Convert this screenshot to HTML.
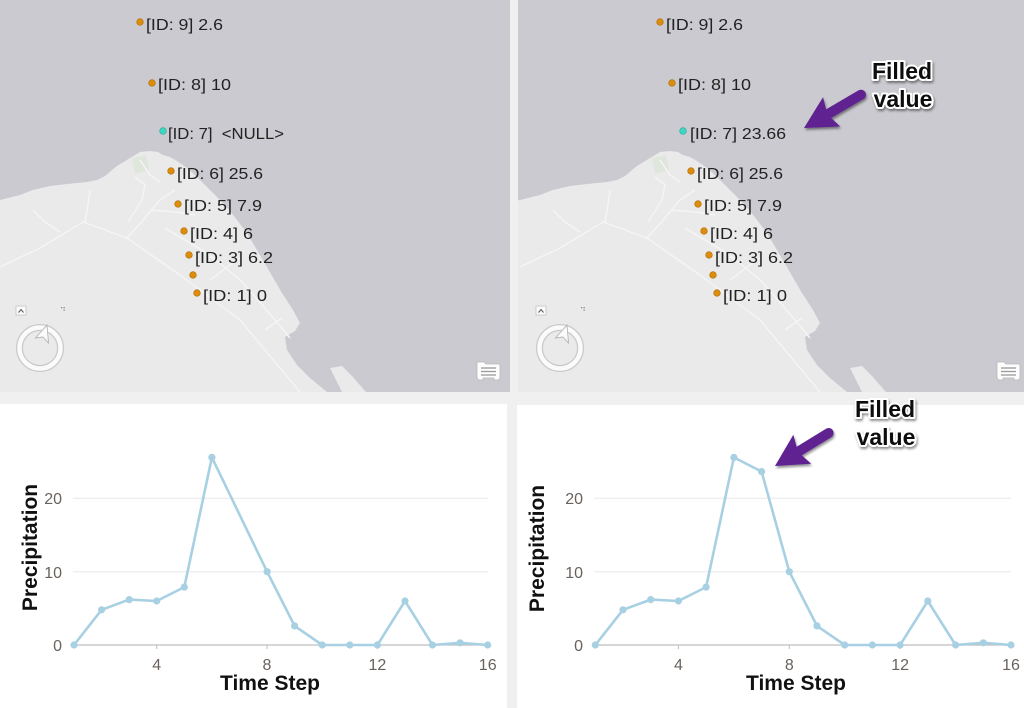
<!DOCTYPE html>
<html><head><meta charset="utf-8"><style>
html,body{margin:0;padding:0;background:#f0f0f0;}
svg{display:block;}
</style></head><body>
<svg width="1024" height="708" viewBox="0 0 1024 708" xmlns="http://www.w3.org/2000/svg">
<defs>
<filter id="ds" x="-20%" y="-20%" width="140%" height="150%">
<feDropShadow dx="1" dy="2" stdDeviation="1.2" flood-color="#000" flood-opacity="0.45"/>
</filter>
<clipPath id="cl"><rect x="0" y="0" width="510" height="392"/></clipPath>
<clipPath id="cr"><rect x="518" y="0" width="506" height="392"/></clipPath>
<g id="map">
<rect x="-30" y="0" width="560" height="392" fill="#cacad0"/>
<path d="M-30,205 L0,200 L20,195 L33,190 L50,186 L67,184 L87,182 L97,180 L105,176 L112,170 L117,166 L122,163 L130,158 L135,155 L140,152 L150,151 L158,152 L163,155 L170,157 L177,161 L187,168 L197,177 L207,187 L217,197 L227,207 L237,220 L247,233 L257,250 L267,267 L275,281 L282,293 L293,310 L300,323 L295,331 L285,337 L287,350 L297,365 L310,378 L322,388 L327,392 L-30,392 Z" fill="#eaeaeb"/>
<path d="M330,368 L342,366 L352,376 L366,392 L342,392 Z" fill="#eaeaeb"/>
<path d="M132,158 L146,155 L149,170 L135,174 Z" fill="#dfe6dc"/>
<g stroke="#f5f5f6" stroke-width="1.4" fill="none">
<path d="M0,267 L40,248 L83,222 L127,238 L180,275 L240,320 L300,392"/>
<path d="M33,210 L45,222 L60,232"/>
<path d="M90,190 L88,205 L85,222"/>
<path d="M127,238 L145,218 L160,200 L175,190"/>
<path d="M135,177 L145,185 L142,200 L128,222"/>
<path d="M150,210 L175,212 L195,215"/>
<path d="M165,228 L185,240 L205,252 L222,265 L240,280 L258,300 L275,320 L290,338"/>
<path d="M210,280 L230,265 L240,258"/>
<path d="M265,330 L282,318"/>
<path d="M140,160 L150,175 L160,182"/>
</g>
<rect x="16" y="306" width="10" height="9" fill="#fafafa" stroke="#c4c4c4" stroke-width="0.8"/>
<path d="M18.5,312.5 L21,309.5 L23.5,312.5" stroke="#555" stroke-width="1" fill="none"/>
<g fill="#888"><rect x="61" y="307" width="1.3" height="1.3"/><rect x="63.5" y="307" width="1.3" height="1.3"/><rect x="63.5" y="309.5" width="1.3" height="1.3"/></g>
<circle cx="40" cy="348" r="20.5" fill="none" stroke="#c9c9c9" stroke-width="7"/>
<circle cx="40" cy="348" r="20.5" fill="none" stroke="#fbfbfb" stroke-width="4.5"/>
<path d="M47,325 L48.5,343 L43,337 L35.5,338 Z" fill="#fbfbfb" stroke="#b5b5b5" stroke-width="0.9"/>
<path d="M477,362 L484,362 L486,364 L499,364 Q500,364 500,366 L500,377 Q500,380 497,380 L494,380 L494,378 L483,378 L483,380 L480,380 Q477,380 477,377 Z" fill="#fdfdfd" stroke="#b8b8b8" stroke-width="0.8"/>
<g stroke="#9a9a9a" stroke-width="1.3"><line x1="481" y1="368" x2="496" y2="368"/><line x1="481" y1="371.5" x2="496" y2="371.5"/><line x1="481" y1="375" x2="496" y2="375"/></g>
</g>
<g id="dots">
<g fill="#dc8d0c" stroke="#b06a00" stroke-width="0.6">
<circle cx="140" cy="22" r="3.3"/><circle cx="152" cy="83" r="3.3"/>
<circle cx="171" cy="171" r="3.3"/><circle cx="178" cy="204" r="3.3"/><circle cx="184" cy="231" r="3.3"/>
<circle cx="189" cy="255" r="3.3"/><circle cx="193" cy="275" r="3.3"/><circle cx="197" cy="293" r="3.3"/>
</g>
<circle cx="163" cy="131" r="3.3" fill="#3ed8c2" stroke="#1aa898" stroke-width="0.6"/>
<g font-family="Liberation Sans, sans-serif" font-size="16" fill="#222">
<text x="146" y="30" textLength="77" lengthAdjust="spacingAndGlyphs">[ID: 9] 2.6</text>
<text x="158" y="90" textLength="73" lengthAdjust="spacingAndGlyphs">[ID: 8] 10</text>
<text x="177" y="179" textLength="86" lengthAdjust="spacingAndGlyphs">[ID: 6] 25.6</text>
<text x="184" y="211" textLength="78" lengthAdjust="spacingAndGlyphs">[ID: 5] 7.9</text>
<text x="190" y="239" textLength="63" lengthAdjust="spacingAndGlyphs">[ID: 4] 6</text>
<text x="195" y="263" textLength="78" lengthAdjust="spacingAndGlyphs">[ID: 3] 6.2</text>
<text x="203" y="301" textLength="64" lengthAdjust="spacingAndGlyphs">[ID: 1] 0</text>
</g>
</g>
</defs>

<rect x="0" y="0" width="1024" height="708" fill="#f0f0f0"/>

<!-- Left map -->
<g clip-path="url(#cl)">
<use href="#map"/>
<use href="#dots"/>
<text x="168" y="139" font-family="Liberation Sans, sans-serif" font-size="16" fill="#222" textLength="116" lengthAdjust="spacingAndGlyphs">[ID: 7]&#160;&#160;&lt;NULL&gt;</text>
</g>

<!-- Right map -->
<g clip-path="url(#cr)">
<g transform="translate(520,0)">
<use href="#map"/>
<use href="#dots"/>
<text x="170" y="139" font-family="Liberation Sans, sans-serif" font-size="16" fill="#222" textLength="96" lengthAdjust="spacingAndGlyphs">[ID: 7] 23.66</text>
</g>
</g>

<!-- Chart backgrounds -->
<rect x="0" y="404" width="507" height="304" fill="#ffffff"/>
<rect x="517" y="405" width="507" height="303" fill="#ffffff"/>

<!-- Left chart -->
<g>
<line x1="73" y1="571.7" x2="488" y2="571.7" stroke="#e8e8e8" stroke-width="1"/>
<line x1="73" y1="498.3" x2="488" y2="498.3" stroke="#e8e8e8" stroke-width="1"/>
<line x1="73" y1="645" x2="488" y2="645" stroke="#bdbdbd" stroke-width="1.2"/>
<g stroke="#bdbdbd" stroke-width="1"><line x1="156.7" y1="645" x2="156.7" y2="649"/><line x1="267" y1="645" x2="267" y2="649"/><line x1="377.4" y1="645" x2="377.4" y2="649"/></g>
<g font-family="Liberation Sans, sans-serif" font-size="16" fill="#6a625c">
<text x="62" y="651" text-anchor="end">0</text>
<text x="62" y="578" text-anchor="end">10</text>
<text x="62" y="504" text-anchor="end">20</text>
<text x="156.7" y="670" text-anchor="middle">4</text>
<text x="267" y="670" text-anchor="middle">8</text>
<text x="377.4" y="670" text-anchor="middle">12</text>
<text x="487.7" y="670" text-anchor="middle">16</text>
</g>
<text x="270" y="690" text-anchor="middle" font-family="Liberation Sans, sans-serif" font-weight="bold" font-size="21" fill="#111">Time Step</text>
<text transform="translate(37,547.5) rotate(-90)" text-anchor="middle" font-family="Liberation Sans, sans-serif" font-weight="bold" font-size="21" fill="#111">Precipitation</text>
<polyline fill="none" stroke="#a8d0e3" stroke-width="2.6" stroke-linejoin="round" points="74,645 101.6,609.8 129.2,599.6 156.7,601 184.3,587.1 211.9,457.4 267.1,571.7 294.6,625.9 322.2,645 349.8,645 377.4,645 405,601 432.5,645 460.1,642.8 487.7,645"/>
<g fill="#a8d0e3">
<circle cx="74" cy="645" r="3.6"/><circle cx="101.6" cy="609.8" r="3.6"/><circle cx="129.2" cy="599.6" r="3.6"/><circle cx="156.7" cy="601" r="3.6"/><circle cx="184.3" cy="587.1" r="3.6"/><circle cx="211.9" cy="457.4" r="3.6"/><circle cx="267.1" cy="571.7" r="3.6"/><circle cx="294.6" cy="625.9" r="3.6"/><circle cx="322.2" cy="645" r="3.6"/><circle cx="349.8" cy="645" r="3.6"/><circle cx="377.4" cy="645" r="3.6"/><circle cx="405" cy="601" r="3.6"/><circle cx="432.5" cy="645" r="3.6"/><circle cx="460.1" cy="642.8" r="3.6"/><circle cx="487.7" cy="645" r="3.6"/>
</g>
</g>

<!-- Right chart -->
<g>
<line x1="594" y1="571.7" x2="1011" y2="571.7" stroke="#e8e8e8" stroke-width="1"/>
<line x1="594" y1="498.3" x2="1011" y2="498.3" stroke="#e8e8e8" stroke-width="1"/>
<line x1="594" y1="645" x2="1011" y2="645" stroke="#bdbdbd" stroke-width="1.2"/>
<g stroke="#bdbdbd" stroke-width="1"><line x1="678.4" y1="645" x2="678.4" y2="649"/><line x1="789.3" y1="645" x2="789.3" y2="649"/><line x1="900.1" y1="645" x2="900.1" y2="649"/></g>
<g font-family="Liberation Sans, sans-serif" font-size="16" fill="#6a625c">
<text x="583" y="651" text-anchor="end">0</text>
<text x="583" y="578" text-anchor="end">10</text>
<text x="583" y="504" text-anchor="end">20</text>
<text x="678.4" y="670" text-anchor="middle">4</text>
<text x="789.3" y="670" text-anchor="middle">8</text>
<text x="900.1" y="670" text-anchor="middle">12</text>
<text x="1011" y="670" text-anchor="middle">16</text>
</g>
<text x="796" y="690" text-anchor="middle" font-family="Liberation Sans, sans-serif" font-weight="bold" font-size="21" fill="#111">Time Step</text>
<text transform="translate(544,548.5) rotate(-90)" text-anchor="middle" font-family="Liberation Sans, sans-serif" font-weight="bold" font-size="21" fill="#111">Precipitation</text>
<polyline fill="none" stroke="#a8d0e3" stroke-width="2.6" stroke-linejoin="round" points="595.3,645 623,609.8 650.7,599.6 678.4,601 706.1,587.1 733.9,457.4 761.6,471.6 789.3,571.7 817,625.9 844.7,645 872.4,645 900.1,645 927.8,601 955.6,645 983.3,642.8 1011,645"/>
<g fill="#a8d0e3">
<circle cx="595.3" cy="645" r="3.6"/><circle cx="623" cy="609.8" r="3.6"/><circle cx="650.7" cy="599.6" r="3.6"/><circle cx="678.4" cy="601" r="3.6"/><circle cx="706.1" cy="587.1" r="3.6"/><circle cx="733.9" cy="457.4" r="3.6"/><circle cx="761.6" cy="471.6" r="3.6"/><circle cx="789.3" cy="571.7" r="3.6"/><circle cx="817" cy="625.9" r="3.6"/><circle cx="844.7" cy="645" r="3.6"/><circle cx="872.4" cy="645" r="3.6"/><circle cx="900.1" cy="645" r="3.6"/><circle cx="927.8" cy="601" r="3.6"/><circle cx="955.6" cy="645" r="3.6"/><circle cx="983.3" cy="642.8" r="3.6"/><circle cx="1011" cy="645" r="3.6"/>
</g>
</g>

<!-- Annotations -->
<g filter="url(#ds)">
<g transform="translate(804,128) rotate(149.7)" fill="#5e2290">
<line x1="-66" y1="0" x2="-24" y2="0" stroke="#5e2290" stroke-width="10" stroke-linecap="round"/>
<polygon points="0,0 -32,-17 -27,0 -32,17"/>
</g>
<g transform="translate(775,466) rotate(148.4)" fill="#5e2290">
<line x1="-63" y1="0" x2="-24" y2="0" stroke="#5e2290" stroke-width="10" stroke-linecap="round"/>
<polygon points="0,0 -32,-17 -27,0 -32,17"/>
</g>
</g>
<g font-family="Liberation Sans, sans-serif" font-weight="bold" font-size="23" text-anchor="middle" fill="#111" stroke="#ffffff" stroke-width="4" paint-order="stroke" stroke-linejoin="round" filter="url(#ds)">
<text x="902" y="79">Filled</text>
<text x="903" y="107">value</text>
<text x="885" y="417">Filled</text>
<text x="886" y="445">value</text>
</g>
</svg>
</body></html>
